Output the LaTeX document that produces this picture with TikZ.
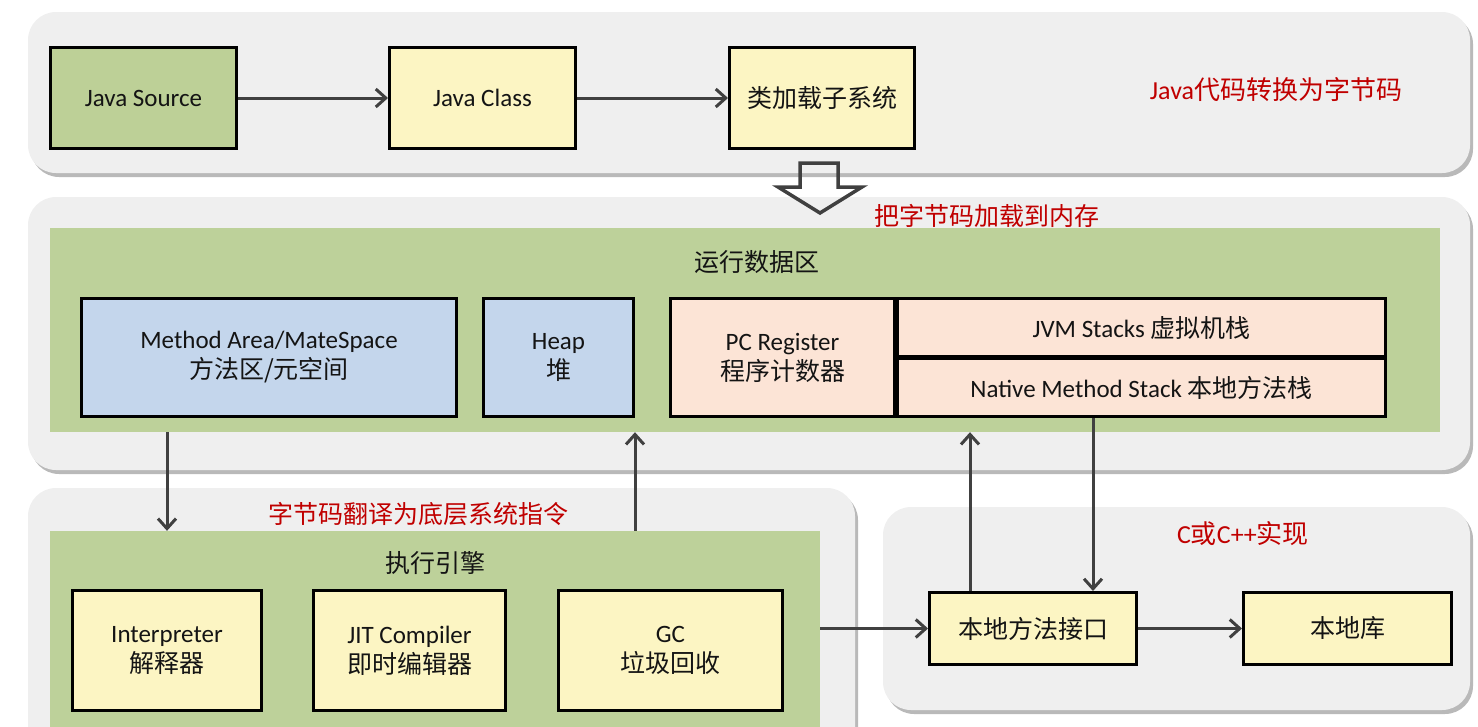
\documentclass[tikz,border=0pt]{standalone}
\usepackage{fontspec}
\setmainfont{Carlito}
\newfontfamily\cjk{Noto Sans CJK SC}
\usetikzlibrary{arrows.meta,positioning,shadows}

\definecolor{panelgray}{HTML}{EFEFEF}
\definecolor{areagreen}{HTML}{BDD19A}
\definecolor{boxgreen}{HTML}{BDD097}
\definecolor{boxyellow}{HTML}{FCF5C3}
\definecolor{boxblue}{HTML}{C4D6EC}
\definecolor{boxpeach}{HTML}{FCE4D6}
\definecolor{notered}{HTML}{C00000}
\definecolor{arrowgray}{HTML}{404040}
\definecolor{textdark}{HTML}{141414}

\newcommand{\zh}[1]{{\cjk #1}}

\begin{document}
\begin{tikzpicture}[x=1pt, y=-1pt,
	panel/.style={fill=panelgray, rounded corners=28pt, drop shadow={shadow xshift=3pt, shadow yshift=-4pt, fill=black!50, opacity=.55}},
	area/.style={fill=areagreen, inner sep=0pt},
	box/.style={draw=black, line width=3pt, inner sep=0pt, align=center, text=textdark, font=\fontsize{25}{30}\selectfont},
	title/.style={text=textdark, font=\fontsize{25}{30}\selectfont\cjk},
	note/.style={text=notered, font=\fontsize{26}{30}\selectfont},
	flow/.style={draw=arrowgray, line width=3pt, -{Straight Barb[length=10pt,width=18pt]}}]

	\path[use as bounding box] (0,0) rectangle (1478,726);
	\clip (0,0) rectangle (1478,726);

	\path[panel] (28,12) rectangle (1470,173);
	\path[panel] (28,197) rectangle (1470,470);
	\path[panel] (28,488) rectangle (855,780);
	\path[panel] (883,507) rectangle (1470,710);

	\node (jsrc) [box, fill=boxgreen, minimum width=186pt, minimum height=101pt] at (143.5, 98) {Java Source};
	\node (jcls) [box, fill=boxyellow, minimum width=186pt, minimum height=101pt] at (482.5, 98) {Java Class};
	\node (loader) [box, fill=boxyellow, minimum width=185pt, minimum height=101pt] at (822, 98) {\zh{类加载子系统}};
	\node (n1) [note] at (1276, 90) {Java\zh{代码转换为字节码}};

	\path[flow]
	(jsrc) edge (jcls)
	(jcls) edge (loader);

	\draw[line width=3.5pt, draw=arrowgray] (800,163) -- (838,163) -- (838,187) -- (862,187) -- (820,213) -- (778,187) -- (800,187) -- cycle;
	\node (n2) [note, font=\fontsize{25}{30}\selectfont\cjk] at (987, 216) {把字节码加载到内存};

	\node (rt) [area, minimum width=1390pt, minimum height=204pt] at (745, 330) {};
	\node (rttitle) [title] at (757, 262) {运行数据区};
	\node (meth) [box, fill=boxblue, minimum width=375pt, minimum height=118pt] at (269, 357.5) {Method Area/MateSpace\\\zh{方法区/元空间}};
	\node (heap) [box, fill=boxblue, minimum width=150pt, minimum height=118pt] at (558.5, 357.5) {Heap\\\zh{堆}};
	\node (pc) [box, fill=boxpeach, minimum width=224pt, minimum height=118pt] at (782.5, 357.5) {PC Register\\\zh{程序计数器}};
	\node (jvms) [box, fill=boxpeach, minimum width=488pt, minimum height=58pt] at (1141.5, 327.5) {JVM Stacks \zh{虚拟机栈}};
	\node (native) [box, fill=boxpeach, minimum width=488pt, minimum height=58pt] at (1141.5, 387.5) {Native Method Stack \zh{本地方法栈}};

	\node (n3) [note, font=\fontsize{25}{30}\selectfont\cjk] at (418, 514) {字节码翻译为底层系统指令};
	\node (ee) [area, minimum width=770pt, minimum height=209pt] at (435, 635.5) {};
	\node (eetitle) [title] at (435, 563) {执行引擎};
	\node (interp) [box, fill=boxyellow, minimum width=189pt, minimum height=120pt] at (167, 650.5) {Interpreter\\\zh{解释器}};
	\node (jit) [box, fill=boxyellow, minimum width=192pt, minimum height=120pt] at (409.5, 650.5) {JIT Compiler\\\zh{即时编辑器}};
	\node (gc) [box, fill=boxyellow, minimum width=224pt, minimum height=120pt] at (670.5, 650.5) {GC\\\zh{垃圾回收}};

	\node (n4) [note] at (1243, 534) {C\zh{或}C++\zh{实现}};
	\node (jni) [box, fill=boxyellow, minimum width=207pt, minimum height=72pt] at (1033, 628.5) {\zh{本地方法接口}};
	\node (lib) [box, fill=boxyellow, minimum width=208pt, minimum height=72pt] at (1347.5, 628.5) {\zh{本地库}};

	\coordinate (jniup) at ([xshift=-63pt]jni.north);
	\coordinate (jnidown) at ([xshift=60pt]jni.north);

	\draw[flow] (rt.south -| interp) -- (ee.north -| interp);
	\draw[flow] (ee.north -| heap.east) -- (rt.south -| heap.east);
	\draw[flow] (jniup) -- (jniup |- rt.south);
	\draw[flow] (jnidown |- native.south) -- (jnidown);
	\draw[flow] (ee.east |- jni) -- (jni);
	\path[flow] (jni) edge (lib);

\end{tikzpicture}
\end{document}
